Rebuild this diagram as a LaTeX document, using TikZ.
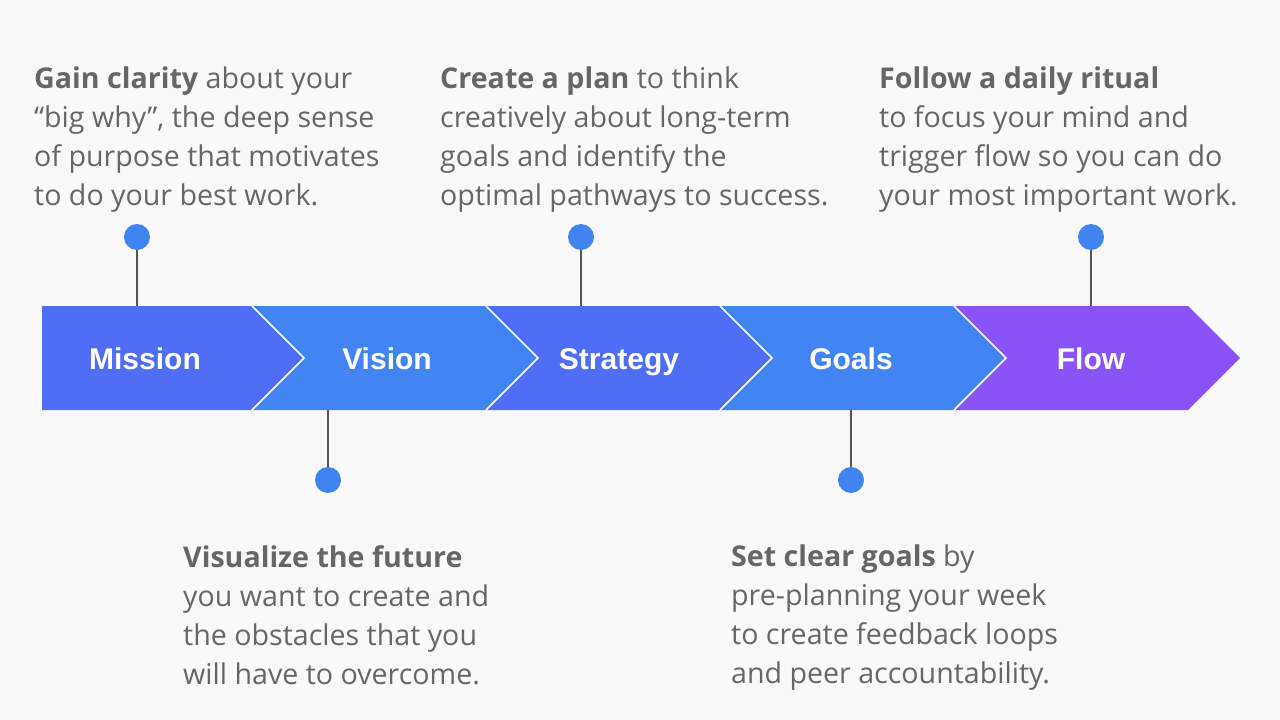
\documentclass[tikz,border=0pt]{standalone}
\usepackage{fontspec}
\setmainfont{Open Sans}
\newfontfamily\stagefont{Liberation Sans}
\definecolor{cBg}{HTML}{F9F9F9}
\definecolor{cInd}{HTML}{4F6DF5}
\definecolor{cBlu}{HTML}{4285F2}
\definecolor{cPur}{HTML}{8A53F8}
\definecolor{cPin}{HTML}{4084F0}
\definecolor{cTxt}{HTML}{666666}
\definecolor{cStem}{HTML}{555555}
\tikzset{
  every node/.style={inner sep=0pt},
  desc/.style={anchor=north west, align=left, text=cTxt, font=\fontsize{28.6}{39}\selectfont},
  stage/.style={anchor=base, text=white, font=\stagefont\bfseries\fontsize{30}{36}\selectfont},
  pin/.style={circle, fill=cPin, minimum size=26pt},
  stem/.style={draw=cStem, line width=2pt},
  sep/.style={draw=white, line width=1.5pt},
}
\begin{document}
\begin{tikzpicture}[x=1pt,y=-1pt]
\fill[cBg] (0,0) rectangle (1280,720);
\useasboundingbox (0,0) rectangle (1280,720);

% ---------------- chevrons
\fill[cInd] (42,306) -- (252,306) -- (304,358) -- (252,410) -- (42,410) -- cycle;
\foreach \i/\c in {1/cBlu,2/cInd,3/cBlu,4/cPur}{
  \fill[\c] ({252+234*(\i-1)},306) -- ++(234,0) -- ++(52,52) -- ++(-52,52) -- ++(-234,0) -- ++(52,-52) -- cycle;
}
\foreach \i in {1,...,4}{
  \draw[sep] ({252+234*(\i-1)},306) -- ++(52,52) -- ++(-52,52);
}
\node[stage] (mission) at (145,369) {Mission};
\node[stage] (vision) at (387,369) {Vision};
\node[stage] (strategy) at (619,369) {Strategy};
\node[stage] (goals) at (851,369) {Goals};
\node[stage] (flow) at (1091,369) {Flow};

% ---------------- pins
\coordinate (tMission) at (137,306);
\coordinate (tVision) at (328,410);
\coordinate (tStrategy) at (581,306);
\coordinate (tGoals) at (851,410);
\coordinate (tFlow) at (1091,306);
\node[pin] (pMission) at (137,237) {};
\node[pin] (pVision) at (328,480) {};
\node[pin] (pStrategy) at (581,237) {};
\node[pin] (pGoals) at (851,480) {};
\node[pin] (pFlow) at (1091,237) {};
\foreach \n in {Mission,Vision,Strategy,Goals,Flow}{\draw[stem] (p\n) -- (t\n);}

% ---------------- texts
\node[desc] (dMission) at (34,67) {{\bfseries Gain clarity} about your\\``big why'', the deep sense\\of purpose that motivates\\to do your best work.};
\node[desc] (dStrategy) at (440,67) {{\bfseries Create a plan} to think\\creatively about long-term\\goals and identify the\\optimal pathways to success.};
\node[desc] (dFlow) at (879,67) {{\bfseries Follow a daily ritual}\\to focus your mind and\\trigger flow so you can do\\your most important work.};
\node[desc] (dVision) at (183,545) {{\bfseries Visualize the future}\\you want to create and\\the obstacles that you\\will have to overcome.};
\node[desc] (dGoals) at (731,545) {{\bfseries Set clear goals} by\\pre-planning your week\\to create feedback loops\\and peer accountability.};
\end{tikzpicture}
\end{document}
